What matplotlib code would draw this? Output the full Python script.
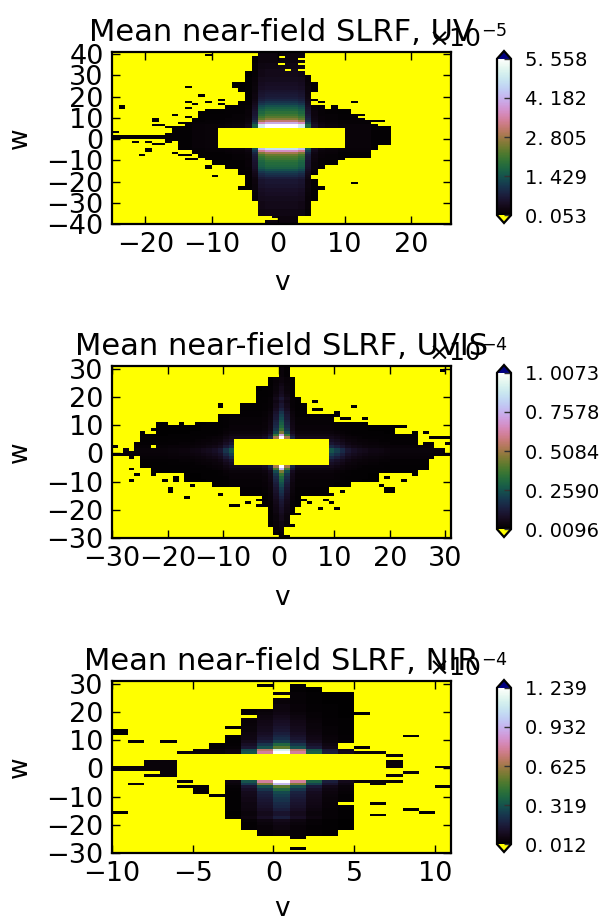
import matplotlib
matplotlib.use("Agg")
import matplotlib.pyplot as plt
import numpy as np

# --- UV panel: rows w=-40..40, columns v=-25..25 ---
uv_w_levels = [.03, .03, .03, .03, .04, .04, .04, .05, .05, .05,
               .05, .06, .06, .07, .07, .08, .08, .09, .09, .10,
               .10, .12, .15, .17, .20, .24, .28, .30, .31, .33,
               .36, .38, .42, .50, .65, .85, 1, 1, 1, 1,
               1, 1, 1, 1, 1, 1, 1, .72, .55, .45,
               .40, .36, .33, .30, .27, .24, .20, .17, .14, .12,
               .11, .10, .09, .08, .08, .07, .07, .06, .06, .05,
               .05, .05, .05, .04, .04, .04, .03, .03, .03, .03, .03]
uv_v_levels = [.01, .01, .01, .01, .01, .01, .01, .01, .01, .01,
               .01, .01, .015, .015, .02, .02, .02, .025, .03, .03,
               .05, .28, .9, 1, 1, 1, 1, 1, .9, .3,
               .08, .04, .03, .03, .02, .02, .02, .02, .02, .01,
               .01, .01, .01, .01, .01, .01, .01, .01, .01, .01, .01]
uv_band_lo = [39, 32, 30, 27, 24, 22, 18, 16, 14, 12, 10, 8, 6, 5, 3, 2, 0, -1, -3, -5, -7,
              -9, -10, -12, -14, -17, -19, -22, -24, -27, -29, -33, -36, -38, -40]
uv_band_hi = [41, 39, 32, 30, 27, 24, 22, 18, 16, 14, 12, 10, 8, 6, 5, 3, 2, 0, -1, -3, -5,
              -7, -9, -10, -12, -14, -17, -19, -22, -24, -27, -29, -33, -36, -38]
uv_left = [-3, -4, -5, -5, -7, -6, -5, -6, -8, -11, -12, -13, -14, -15, -16, -17, -25, -17, -15, -15, -13,
           -12, -11, -10, -8, -6, -5, -5, -6, -4, -4, -3, -3, -1, -2]
uv_right = [4, 4, 4, 5, 6, 6, 5, 5, 7, 11, 12, 13, 14, 17, 17, 17, 17, 17, 17, 15, 14,
            13, 10, 9, 7, 6, 5, 6, 7, 6, 6, 5, 5, 3, 3]
uv_specks = [(39, -11, -10), (24, -14, -13), (20, -12, -11), (17, -14, -13), (16, -13, -12),
             (17, -11, -10), (18, -9, -8), (16, -9, -8), (15, -24, -23), (14, -24, -23),
             (14, -14, -13), (12, -12, -11), (11, -16, -15), (10, -14, -13), (9, -19, -18),
             (8, -19, -18), (7, -15, -14), (6, -19, -17), (5, -17, -15), (3, -25, -24),
             (-2, -22, -21), (-2, -20, -19), (-3, -19, -17), (-2, -17, -16), (-5, -20, -19),
             (-6, -20, -19), (-8, -21, -20), (-7, -16, -15), (-8, -15, -13), (-5, -14, -13),
             (-10, -14, -12), (-13, -11, -10), (-14, -11, -10), (-18, -10, -9), (-13, -7, -6),
             (-18, -5, -4), (-21, 11, 12), (-8, 13, 14), (-9, 13, 14), (17, 11, 12),
             (18, 5, 6), (17, 6, 7), (15, 8, 9), (14, 8, 9), (11, 11, 13), (9, 10, 12),
             (8, 13, 16), (6, 13, 15)]
uv_gaps = [(38, 0, 1), (35, 0, 1), (32, 1, 2), (37, 3, 4), (35, 3, 4), (32, 3, 4), (-38, -1, 0)]
uv_hole = (-4, 5, -9, 10)

# --- UVIS panel: rows w=-30..30, columns v=-30..30 ---
uvis_w_levels = [.02, .02, .03, .03, .04, .04, .05, .05, .06, .07,
                 .08, .09, .10, .11, .13, .15, .17, .19, .22, .24,
                 .27, .30, .35, .45, .75, 1, 1.5, 2, 3, 4,
                 5, 5, 3, 2, 1.5, 1, .7, .45, .35, .30,
                 .27, .25, .22, .20, .17, .13, .10, .10, .08, .10,
                 .07, .06, .05, .05, .04, .03, .03, .02, .02, .02, .02]
uvis_v_levels = [.004, .004, .004, .004, .004, .004, .004, .004, .004, .004,
                 .005, .005, .006, .006, .007, .008, .01, .012, .015, .02,
                 .035, .05, .05, .05, .05, .05, .05, .07, .14, .5,
                 1, .5, .14, .05, .05, .05, .05, .05, .05, .05,
                 .04, .03, .02, .015, .012, .01, .008, .008, .007, .006,
                 .005, .005, .005, .005, .005, .005, .005, .005, .005, .005, .005]
uvis_band_lo = [27, 24, 20, 18, 14, 11, 10, 7, 4, 2, 0, -1, -5, -7, -10, -12, -15, -19, -22, -26, -29, -30]
uvis_band_hi = [31, 27, 24, 20, 18, 14, 11, 10, 7, 4, 2, 0, -1, -5, -7, -10, -12, -15, -19, -22, -26, -29]
uvis_left = [0, -2, -4, -4, -7, -11, -15, -22, -25, -26, -28, -30, -25, -23, -17, -12, -7, -3, -2, -2, -1, 0]
uvis_right = [2, 3, 3, 4, 5, 10, 16, 21, 25, 28, 30, 31, 27, 25, 18, 13, 9, 4, 3, 2, 1, 1]
uvis_specks = [(17, -11, -10), (16, -11, -10), (14, -7, -4), (17, -6, -4), (17, 3, 4), (18, 6, 7),
               (16, 13, 14), (15, 6, 8), (14, 10, 11), (13, 10, 11), (12, 11, 13), (12, 15, 16),
               (10, -22, -20), (10, -18, -17), (7, -25, -24), (8, -23, -21), (4, -25, -24),
               (2, -30, -29), (-2, -27, -26), (-6, -27, -26), (-8, -26, -25), (-8, -23, -22),
               (-10, -27, -26), (-10, -21, -20), (-9, -19, -18), (-10, -19, -18), (-13, -20, -19),
               (-14, -20, -19), (-12, -16, -15), (-9, -14, -13), (-16, -17, -16), (-12, -7, -6),
               (-19, -9, -7), (-18, -6, -5), (-15, -11, -10), (-17, -4, -3), (-19, -4, -3),
               (-17, 4, 5), (-17, 8, 9), (-15, 9, 10), (-18, 5, 6), (-18, 9, 10), (-20, 7, 8),
               (-20, 10, 11), (-26, 2, 3), (-30, 1, 2), (-22, 3, 4), (9, 21, 23), (7, 24, 25),
               (7, 26, 27), (5, 27, 29), (5, 29, 31), (3, 30, 31), (-2, 24, 26), (-2, 27, 28),
               (-6, 25, 27), (-8, 24, 25), (-9, 19, 20), (-10, 22, 23), (-13, 19, 21),
               (-14, 19, 21), (-12, 18, 19), (-14, 11, 12), (29, 29, 30)]
uvis_gaps = [(2, -23, -22), (1, -27, -26), (3, 25, 26)]
uvis_hole = (-4, 5, -8, 9)

# --- NIR panel: rows w=-30..30, columns v=-10..10 ---
nir_w_levels = [.01, .01, .01, .01, .015, .02, .02, .02, .03, .03,
                .04, .05, .12, .09, .09, .12, .14, .15, .17, .18,
                .20, .22, .30, .40, .75, 1, 1, 1, 1, 1,
                1, 1, 1, 1, 1, 1, .9, .40, .30, .20,
                .16, .14, .12, .10, .09, .08, .07, .06, .05, .04,
                .03, .03, .03, .02, .02, .02, .02, .01, .01, .01, .01]
nir_v_levels = [.02, .02, .02, .02, .02, .02, .02, .03, .25, .6, 1,
                .6, .28, .12, .05, .02, .02, .02, .02, .02, .02]
nir_band_lo = [27, 26, 25, 21, 19, 18, 15, 14, 12, 11, 9, 7, 6, 5,
               -5, -6, -12, -13, -18, -22, -24]
nir_band_hi = [29, 27, 26, 25, 21, 19, 18, 15, 14, 12, 11, 9, 7, 6,
               -4, -5, -6, -12, -13, -18, -22]
nir_left = [1, 1, 1, 0, -2, -1, -2, -3, -2, -3, -3, -4, -5, -6,
            -3, -3, -3, -3, -3, -2, -1]
nir_right = [3, 5, 5, 5, 5, 5, 5, 5, 5, 5, 5, 4, 5, 7,
             7, 5, 5, 4, 5, 5, 4]
nir_specks = [(29, -1, 0), (29, 1, 2), (26, 0, 1), (19, 5, 6), (12, -10, -9), (13, -10, -9),
              (9, -9, -8), (9, -7, -6), (7, 5, 6), (2, -8, -6), (1, -8, -6), (0, -10, -6),
              (-1, -10, -6), (-2, -7, -6), (-3, -8, -6), (-6, -9, -8), (-16, -10, -9),
              (4, 7, 8), (2, 7, 8), (1, 7, 8), (0, 7, 8), (-3, 7, 8), (-2, 8, 9), (-5, 7, 8),
              (11, 8, 9), (0, 10, 11), (-7, 10, 11), (-13, 6, 7), (-17, 6, 7), (-15, 8, 9),
              (-16, 9, 10), (-6, 6, 7), (-5, -6, -5), (-7, -6, -5), (-7, -5, -4), (-8, -5, -4),
              (-9, -5, -4), (-24, -1, 3), (-25, 1, 2), (-29, 1, 2), (-10, -4, -3)]
nir_gaps = []
nir_hole = (-4, 5, -6, 7)

# colour ranges and colourbar labels
uv_ticks = [0.053, 1.429, 2.805, 4.182, 5.558]
uvis_ticks = [0.0096, 0.2590, 0.5084, 0.7578, 1.0073]
nir_ticks = [0.012, 0.319, 0.625, 0.932, 1.239]
uv_ticklabels = ["0. 053", "1. 429", "2. 805", "4. 182", "5. 558"]
uvis_ticklabels = ["0. 0096", "0. 2590", "0. 5084", "0. 7578", "1. 0073"]
nir_ticklabels = ["0. 012", "0. 319", "0. 625", "0. 932", "1. 239"]

W, H = 599, 919


def build_grid(w_levels, v_levels, w0, v0, bands, specks, gaps, hole, vmin, vmax):
    w_levels = np.array(w_levels)
    v_levels = np.array(v_levels)
    values = np.minimum(vmin * 1.5 + vmax * np.outer(w_levels, v_levels), vmax)
    keep = np.zeros(values.shape, dtype=bool)
    for lo, hi, left, right in zip(*bands):
        keep[lo - w0:hi - w0, left - v0:right - v0] = True
    for w, left, right in specks:
        keep[w - w0, left - v0:right - v0] = True
    for w, left, right in gaps:
        keep[w - w0, left - v0:right - v0] = False
    # below the colour range -> drawn yellow
    values[~keep] = vmin * 0.5
    lo, hi, left, right = hole
    mask = np.zeros(values.shape, dtype=bool)
    mask[lo - w0:hi - w0, left - v0:right - v0] = True
    return np.ma.array(values, mask=mask)


def draw_panel(fig, top, title, grid, extent, xticks, yticks, ticks, ticklabels, power, label_y):
    ax = fig.add_axes([112 / W, 1 - (top + 172) / H, 339 / W, 172 / H])
    cmap = plt.get_cmap("cubehelix").copy()
    cmap.set_under("yellow")
    cmap.set_over("navy")
    cmap.set_bad("yellow")
    im = ax.imshow(grid, origin="lower", extent=extent, aspect="auto", cmap=cmap,
                   vmin=ticks[0], vmax=ticks[-1], interpolation="nearest")
    ax.set_xticks(xticks)
    ax.set_yticks(yticks)
    ax.tick_params(direction="in", top=True, right=True, length=6, width=1,
                   labelsize=19.5, pad=6)
    for spine in ax.spines.values():
        spine.set_linewidth(1.6)
    ax.set_title(title, fontsize=22, pad=8)
    fig.text(282 / W, 1 - label_y / H, "v", fontsize=19, ha="center", va="center")
    fig.text(20 / W, 1 - (top + 86) / H, "w", fontsize=19, ha="center", va="center",
             rotation=90)

    # the extend triangles sit inside the colourbar axes
    cax = fig.add_axes([497 / W, 1 - (top + 171) / H, 14 / W, 172 / H])
    cbar = fig.colorbar(im, cax=cax, extend="both", extendfrac=0.05, ticks=ticks)
    cbar.ax.set_yticklabels(ticklabels)
    cbar.ax.tick_params(direction="in", length=5, width=1, labelsize=14, pad=10, color="#333333")
    cbar.outline.set_linewidth(1.6)
    fig.text(428 / W, 1 - (top - 13) / H, r"$\times10^{%d}$" % power, fontsize=18,
             ha="left", va="center")
    return ax


fig = plt.figure(figsize=(W / 100, H / 100), dpi=100)

uv_grid = build_grid(uv_w_levels, uv_v_levels, -40, -25,
                     (uv_band_lo, uv_band_hi, uv_left, uv_right),
                     uv_specks, uv_gaps, uv_hole, uv_ticks[0], uv_ticks[-1])
uvis_grid = build_grid(uvis_w_levels, uvis_v_levels, -30, -30,
                       (uvis_band_lo, uvis_band_hi, uvis_left, uvis_right),
                       uvis_specks, uvis_gaps, uvis_hole, uvis_ticks[0], uvis_ticks[-1])
nir_grid = build_grid(nir_w_levels, nir_v_levels, -30, -10,
                      (nir_band_lo, nir_band_hi, nir_left, nir_right),
                      nir_specks, nir_gaps, nir_hole, nir_ticks[0], nir_ticks[-1])

draw_panel(fig, 52, "Mean near-field SLRF, UV", uv_grid, (-25, 26, -40, 41),
           np.arange(-20, 21, 10), np.arange(-40, 41, 10), uv_ticks, uv_ticklabels, -5, 283)
draw_panel(fig, 366, "Mean near-field SLRF, UVIS", uvis_grid, (-30, 31, -30, 31),
           np.arange(-30, 31, 10), np.arange(-30, 31, 10), uvis_ticks, uvis_ticklabels, -4, 598)
draw_panel(fig, 681, "Mean near-field SLRF, NIR", nir_grid, (-10, 11, -30, 31),
           np.arange(-10, 11, 5), np.arange(-30, 31, 10), nir_ticks, nir_ticklabels, -4, 909)

fig.savefig("out.png", dpi=100)
